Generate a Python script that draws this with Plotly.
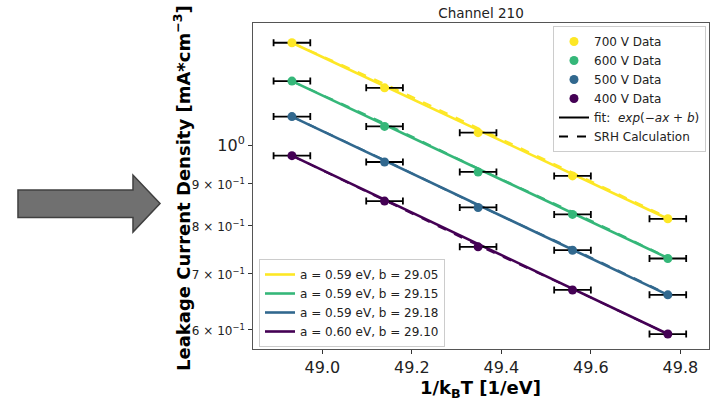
import plotly.graph_objects as go

# ---------------- data ----------------
x_vals = [48.932, 49.139, 49.348, 49.559, 49.772]
x_err = [0.041, 0.041, 0.041, 0.041, 0.041]

voltages = ["700 V", "600 V", "500 V", "400 V"]
colors = ["#fde725", "#35b779", "#31688e", "#440154"]

data_700 = [1.328, 1.172, 1.035, 0.918, 0.815]
data_600 = [1.194, 1.053, 0.928, 0.825, 0.730]
data_500 = [1.082, 0.954, 0.841, 0.747, 0.660]
data_400 = [0.971, 0.856, 0.754, 0.669, 0.592]
data_all = [data_700, data_600, data_500, data_400]

# fit lines (value at first and last x)
fit_x = [48.932, 49.772]
fit_700 = [1.328, 0.815]
fit_600 = [1.194, 0.731]
fit_500 = [1.082, 0.660]
fit_400 = [0.971, 0.592]
fit_all = [fit_700, fit_600, fit_500, fit_400]
fit_labels = ["a = 0.59 eV, b = 29.05", "a = 0.59 eV, b = 29.15",
              "a = 0.59 eV, b = 29.18", "a = 0.60 eV, b = 29.10"]

# SRH calculation (dashed)
srh_700 = [1.328, 1.185, 1.048, 0.927, 0.818]
srh_600 = [1.194, 1.062, 0.937, 0.831, 0.732]
srh_500 = [1.082, 0.959, 0.846, 0.750, 0.661]
srh_400 = [0.971, 0.858, 0.757, 0.671, 0.592]
srh_all = [srh_700, srh_600, srh_500, srh_400]

y_tickvals = [0.6, 0.7, 0.8, 0.9, 1.0]
y_ticktext = ["<span style='font-size:12px'>6 × 10<sup>−1</sup></span>",
              "<span style='font-size:12px'>7 × 10<sup>−1</sup></span>",
              "<span style='font-size:12px'>8 × 10<sup>−1</sup></span>",
              "<span style='font-size:12px'>9 × 10<sup>−1</sup></span>",
              "10<sup>0</sup>"]
x_tickvals = [49.0, 49.2, 49.4, 49.6, 49.8]

# ---------------- layout geometry ----------------
W, H = 717, 401
L, R, T, B = 253, 8, 23, 52
PW, PH = W - L - R, H - T - B


def px(xp):
    return (xp - L) / PW


def py(yp):
    return (H - B - yp) / PH


FONT = "DejaVu Sans"
fig = go.Figure()

# fit lines (legend2)
for c, f, lab in zip(colors, fit_all, fit_labels):
    fig.add_trace(go.Scatter(x=fit_x, y=f, mode="lines", name=lab,
                             line=dict(color=c, width=2.6), legend="legend2"))
# SRH dashed lines
for c, s in zip(colors, srh_all):
    fig.add_trace(go.Scatter(x=x_vals, y=s, mode="lines", showlegend=False,
                             line=dict(color=c, width=2, dash="dash")))
# data points with error bars
for c, d, v in zip(colors, data_all, voltages):
    fig.add_trace(go.Scatter(
        x=x_vals, y=d, mode="markers", name=f"{v} Data",
        marker=dict(color=c, size=9),
        error_x=dict(type="data", array=x_err, visible=True, color="black",
                     thickness=1.8, width=3.5),
        legend="legend"))
# legend-only entries
fig.add_trace(go.Scatter(x=[None], y=[None], mode="lines",
                         name="fit:  <i>exp</i>(−<i>ax</i> + <i>b</i>)",
                         line=dict(color="black", width=2), legend="legend"))
fig.add_trace(go.Scatter(x=[None], y=[None], mode="lines", name="SRH Calculation",
                         line=dict(color="black", width=2, dash="dash"), legend="legend"))

# arrow shape
arrow_pts = [(18, 190), (133, 190), (133, 175), (160, 203.5), (133, 232),
             (133, 217.5), (18, 217.5)]
path = "M " + " L ".join(f"{px(a):.4f},{py(b):.4f}" for a, b in arrow_pts) + " Z"
fig.add_shape(type="path", path=path, xref="paper", yref="paper",
              fillcolor="#707070", line=dict(color="#404040", width=1.5), layer="above")

# axis titles as annotations
fig.add_annotation(text="<b>Leakage Current Density [mA*cm<sup>−3</sup>]</b>",
                   xref="paper", yref="paper", x=px(182), y=py(188), textangle=-90,
                   showarrow=False, font=dict(family=FONT, size=18, color="black"),
                   xanchor="center", yanchor="middle")
fig.add_annotation(text="<b>1/k<sub>B</sub>T [1/eV]</b>",
                   xref="paper", yref="paper", x=px(418), y=py(389),
                   showarrow=False, font=dict(family=FONT, size=18, color="black"),
                   xanchor="left", yanchor="middle")

fig.update_layout(
    width=W, height=H,
    margin=dict(l=L, r=R, t=T, b=B, pad=0),
    paper_bgcolor="white", plot_bgcolor="white",
    font=dict(family=FONT, color="#222222"),
    title=dict(text="Channel 210", xref="paper", x=0.5, xanchor="center",
               yref="container", y=1 - 13.5 / H, yanchor="middle",
               font=dict(family=FONT, size=13.5, color="#222222")),
    xaxis=dict(range=[48.845, 49.864], tickvals=x_tickvals,
               ticktext=[f"{v:.1f}" for v in x_tickvals],
               showgrid=False, zeroline=False, showline=True, mirror=True,
               linecolor="#555555", linewidth=1, ticks="outside", ticklen=4,
               tickcolor="#333333", tickfont=dict(family=FONT, size=16, color="#222222")),
    yaxis=dict(type="log", range=[-0.2457, 0.147], tickvals=y_tickvals,
               ticktext=y_ticktext, showgrid=False, zeroline=False, showline=True,
               mirror=True, linecolor="#555555", linewidth=1, ticks="outside",
               ticklen=4, tickcolor="#333333",
               tickfont=dict(family=FONT, size=16, color="#222222")),
    legend=dict(x=px(706), y=py(26), xanchor="right", yanchor="top",
                bgcolor="rgba(255,255,255,0.85)", bordercolor="#cccccc", borderwidth=1,
                font=dict(family=FONT, size=12, color="#222222"),
                tracegroupgap=0, itemwidth=30),
    legend2=dict(x=px(259), y=py(347), xanchor="left", yanchor="bottom",
                 bgcolor="rgba(255,255,255,0.85)", bordercolor="#cccccc", borderwidth=1,
                 font=dict(family=FONT, size=12, color="#222222"),
                 tracegroupgap=0, itemwidth=30),
    showlegend=True,
)

fig.write_html("out.html")
